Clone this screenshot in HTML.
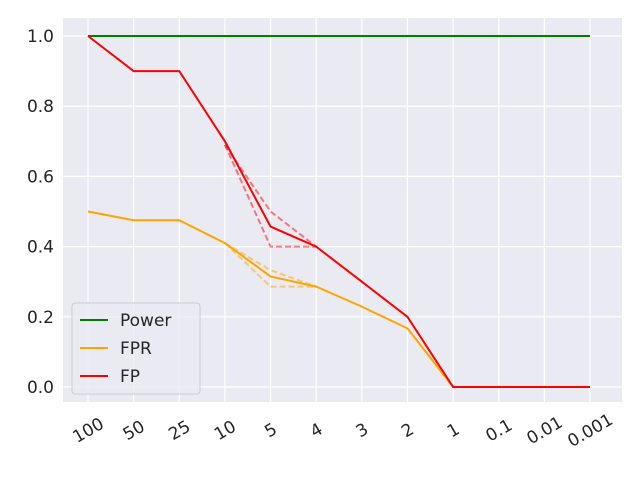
<!DOCTYPE html>
<html><head><meta charset="utf-8"><style>
body{margin:0;background:#fff}
svg{display:block;font-family:"DejaVu Sans","Liberation Sans",sans-serif}
</style></head><body>
<svg id="chart" width="640" height="480"></svg>
<script>
const categories=["100","50","25","10","5","4","3","2","1","0.1","0.01","0.001"];
const power=[1,1,1,1,1,1,1,1,1,1,1,1];
const fpr=[0.5,0.475,0.475,0.41,0.315,0.286,0.229,0.167,0,0,0,0];
const fp=[1,0.9,0.9,0.7,0.457,0.4,0.3,0.2,0,0,0,0];
const fpUpperIdx=[3,4,5];const fpUpper=[0.69,0.5,0.4];
const fpLower=[0.69,0.4,0.4];
const fprUpper=[0.41,0.333,0.286];
const fprLower=[0.41,0.286,0.286];
const yTicks=[0,0.2,0.4,0.6,0.8,1.0];
const NS="http://www.w3.org/2000/svg";
const svg=document.getElementById('chart');
const L=63,R=622,T=18,B=402;
const x=i=>88+i*(590-88)/(categories.length-1);
const y=v=>387-v*351;
function el(t,a,p){const e=document.createElementNS(NS,t);for(const k in a)e.setAttribute(k,a[k]);(p||svg).appendChild(e);return e;}
const bg=el('rect',{x:L,y:T,width:R-L,height:B-T,fill:'#eaeaf2'});

yTicks.forEach(v=>{
 const g=el('line',{x1:L,x2:R,y1:y(v),y2:y(v),stroke:'#fff','stroke-width':1.2});
 
 const t=el('text',{x:L-9,y:y(v)+6,'text-anchor':'end','font-size':17,fill:'#262626'});t.textContent=v.toFixed(1);
 
});
categories.forEach((c,i)=>{
 const g=el('line',{x1:x(i),x2:x(i),y1:T,y2:B,stroke:'#fff','stroke-width':1.2});
 
 const t=el('text',{x:0,y:6,'text-anchor':'middle','font-size':17,fill:'#262626',transform:`translate(${x(i)},${B+28}) rotate(-30)`});
 t.textContent=c;
 
});
function line(vals,idx,color,name,dash,op){
 const pts=vals.map((v,k)=>x(idx?idx[k]:k)+','+y(v)).join(' ');
 const p=el('polyline',{points:pts,fill:'none',stroke:color,'stroke-width':2,'stroke-dasharray':dash||'none',opacity:op||1});
 
}
line(fprUpper,fpUpperIdx,'orange','fpr-upper-dashed','6,3',0.5);
line(fprLower,fpUpperIdx,'orange','fpr-lower-dashed','6,3',0.5);
line(fpUpper,fpUpperIdx,'red','fp-upper-dashed','6,3',0.5);
line(fpLower,fpUpperIdx,'red','fp-lower-dashed','6,3',0.5);
line(power,null,'green','power-line');
line(fpr,null,'orange','fpr-line');
line(fp,null,'red','fp-line');
const lg=el('g',{});
el('rect',{x:72,y:303,width:128,height:91,rx:3,fill:'#eaeaf2',stroke:'#ccc','fill-opacity':0.8},lg);
[['Power','green'],['FPR','orange'],['FP','red']].forEach((d,k)=>{
 const yy=320+k*28;
 const l=el('line',{x1:80,x2:108,y1:yy,y2:yy,stroke:d[1],'stroke-width':2},lg);
 
 const t=el('text',{x:120,y:yy+6,'font-size':17,fill:'#262626'},lg);t.textContent=d[0];
 
});
</script>
</body></html>
